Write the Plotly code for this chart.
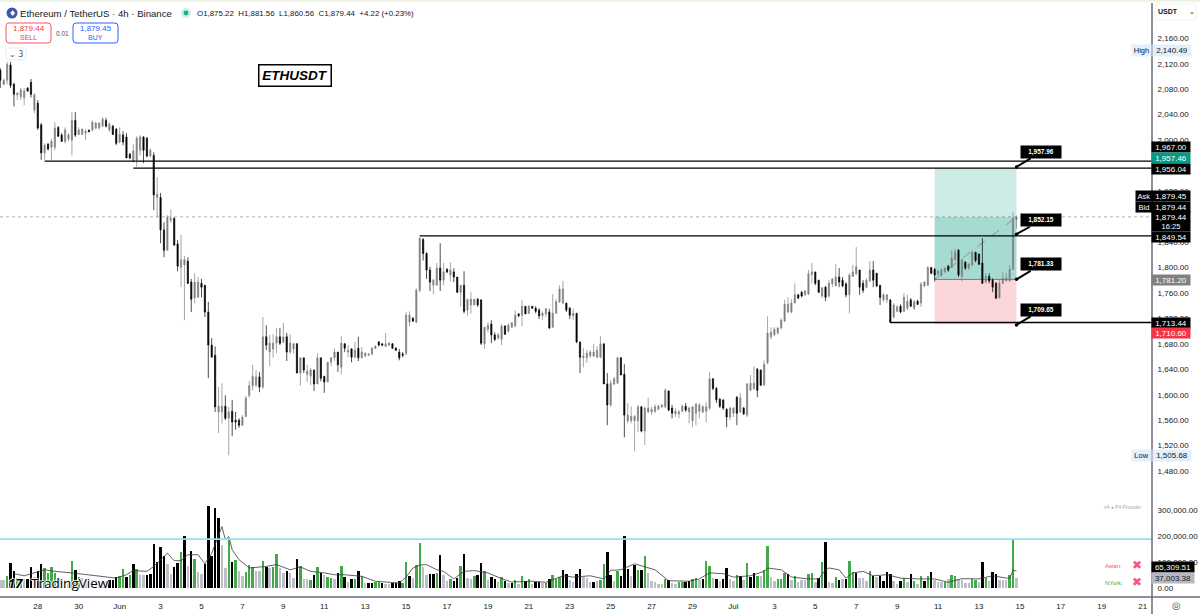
import pandas as pd
import plotly.graph_objects as go

# 4h ETH/USDT session data
bar_dates = pd.date_range("2023-05-26 04:00", periods=299, freq="4h")

opens = [
    2110,2088,2094,2118,2088,2071,2068,2067,2082,2091,
    2047,2058,2024,1980,1994,1989,1989,2020,2008,1998,
    2002,2000,2031,2009,2009,2011,2016,2016,2019,2019,
    2022,2031,2016,2022,2017,1997,2008,2005,1978,1967,
    1969,1984,2005,2003,1975,1976,1910,1910,1859,1827,
    1874,1877,1837,1800,1804,1810,1777,1752,1753,1775,
    1772,1730,1678,1662,1573,1573,1582,1563,1574,1560,
    1560,1552,1566,1599,1614,1615,1628,1612,1691,1667,
    1672,1681,1691,1683,1691,1667,1672,1680,1634,1658,
    1632,1629,1639,1617,1658,1629,1620,1651,1658,1667,
    1643,1680,1667,1672,1659,1673,1658,1661,1662,1664,
    1673,1683,1680,1676,1678,1680,1673,1667,1664,1665,
    1714,1720,1714,1764,1844,1822,1796,1772,1772,1799,
    1780,1797,1788,1793,1785,1761,1772,1733,1741,1741,
    1750,1749,1680,1703,1711,1694,1689,1687,1708,1700,
    1706,1708,1727,1725,1739,1728,1739,1736,1733,1724,
    1727,1730,1706,1728,1746,1744,1744,1736,1724,1728,
    1683,1658,1658,1661,1661,1659,1659,1680,1617,1584,
    1617,1618,1658,1632,1559,1559,1559,1559,1581,1543,
    1573,1573,1574,1577,1581,1581,1606,1579,1570,1570,
    1574,1582,1573,1559,1571,1574,1573,1574,1579,1625,
    1610,1593,1592,1577,1565,1571,1596,1573,1579,1568,
    1607,1610,1640,1639,1615,1650,1691,1694,1697,1705,
    1716,1730,1730,1744,1757,1761,1757,1758,1789,1793,
    1780,1755,1769,1755,1774,1771,1785,1780,1774,1757,
    1786,1790,1796,1775,1769,1779,1796,1791,1772,1749,
    1749,1749,1722,1731,1739,1731,1736,1749,1736,1747,
    1744,1771,1772,1800,1797,1790,1788,1793,1802,1800,
    1812,1827,1786,1808,1799,1804,1824,1821,1807,1777,
    1786,1780,1775,1752,1775,1779,1779,1797,1875.22,
]
highs = [
    2113,2097,2123,2123,2090,2075,2082,2082,2083,2096,
    2074,2063,2027,1995,1995,2002,2028,2022,2011,2020,
    2011,2044,2044,2020,2019,2017,2016,2031,2028,2028,
    2036,2035,2028,2024,2019,2020,2014,2011,1980,1994,
    2006,2008,2006,2005,1987,1981,1942,1917,1871,1882,
    1891,1879,1843,1851,1818,1816,1782,1791,1785,1782,
    1772,1746,1689,1676,1612,1618,1599,1581,1592,1573,
    1563,1568,1598,1621,1647,1639,1636,1722,1709,1694,
    1695,1705,1705,1713,1697,1695,1681,1681,1658,1658,
    1647,1642,1639,1665,1658,1629,1651,1659,1673,1667,
    1692,1681,1678,1673,1683,1691,1675,1667,1665,1675,
    1678,1684,1681,1697,1683,1681,1675,1672,1667,1730,
    1731,1722,1767,1846,1846,1824,1801,1782,1807,1838,
    1807,1799,1808,1799,1785,1772,1794,1750,1761,1750,
    1752,1750,1706,1714,1717,1698,1697,1711,1709,1712,
    1714,1733,1728,1749,1739,1741,1739,1739,1736,1731,
    1736,1735,1758,1750,1772,1779,1744,1738,1735,1728,
    1683,1673,1670,1670,1680,1676,1692,1680,1634,1623,
    1628,1659,1659,1648,1587,1582,1568,1584,1582,1581,
    1595,1581,1585,1584,1585,1610,1606,1584,1579,1576,
    1585,1587,1581,1582,1587,1587,1584,1588,1636,1626,
    1612,1595,1592,1579,1581,1581,1598,1603,1581,1618,
    1631,1645,1642,1639,1654,1723,1706,1706,1706,1720,
    1749,1753,1750,1775,1758,1763,1764,1796,1807,1793,
    1780,1769,1771,1780,1783,1805,1799,1785,1777,1791,
    1804,1832,1796,1780,1783,1810,1810,1791,1772,1760,
    1758,1750,1744,1741,1742,1760,1757,1752,1749,1749,
    1777,1778,1802,1800,1799,1796,1799,1800,1804,1827,
    1829,1829,1813,1810,1807,1827,1824,1822,1846,1791,
    1791,1783,1777,1780,1793,1791,1804,1887,1881.56,
]
lows = [
    2082,2086,2088,2082,2053,2063,2063,2055,2077,2067,
    2042,2016,1969,1969,1984,1969,1984,2005,1998,1995,
    1998,1976,2005,2008,2008,2000,2013,2014,2017,2017,
    2020,2020,2013,2008,1992,1995,1992,1972,1970,1965,
    1958,1976,1964,1973,1973,1890,1879,1838,1816,1827,
    1870,1835,1794,1769,1717,1774,1730,1744,1753,1753,
    1722,1626,1659,1573,1540,1555,1560,1505,1535,1545,
    1548,1551,1565,1595,1607,1612,1604,1609,1670,1645,
    1658,1665,1678,1681,1653,1664,1665,1634,1614,1634,
    1620,1615,1606,1617,1621,1603,1620,1645,1653,1636,
    1632,1667,1659,1651,1657,1653,1658,1659,1661,1662,
    1672,1676,1676,1675,1676,1672,1669,1654,1659,1662,
    1708,1714,1712,1761,1811,1782,1763,1758,1772,1763,
    1772,1791,1778,1777,1760,1739,1728,1724,1727,1741,
    1738,1678,1672,1698,1681,1684,1687,1678,1694,1697,
    1705,1706,1722,1708,1727,1727,1735,1728,1719,1717,
    1722,1703,1706,1727,1744,1742,1730,1719,1717,1681,
    1634,1643,1650,1658,1659,1658,1658,1617,1552,1581,
    1615,1618,1631,1533,1555,1555,1511,1541,1541,1521,
    1571,1568,1571,1576,1579,1579,1574,1563,1565,1563,
    1573,1573,1555,1549,1552,1563,1571,1557,1576,1607,
    1587,1579,1576,1549,1560,1565,1552,1571,1568,1565,
    1606,1607,1596,1614,1615,1648,1687,1692,1694,1703,
    1714,1728,1728,1744,1750,1753,1755,1757,1775,1772,
    1760,1752,1747,1753,1769,1771,1769,1769,1753,1728,
    1785,1788,1757,1760,1767,1777,1769,1769,1741,1746,
    1744,1713,1720,1730,1728,1730,1733,1738,1733,1741,
    1738,1769,1771,1789,1778,1788,1785,1791,1793,1799,
    1811,1785,1778,1796,1796,1802,1808,1804,1774,1775,
    1775,1761,1750,1752,1774,1778,1777,1796,1860.56,
]
closes = [
    2094,2094,2119,2086,2072,2074,2079,2077,2077,2072,
    2071,2019,1980,1992,1986,1998,2019,2006,1998,2016,
    2008,2031,2008,2016,2017,2014,2013,2028,2027,2027,
    2033,2022,2025,2009,1995,2009,1997,1972,1972,1983,
    2003,2005,1984,1975,1984,1914,1915,1859,1827,1879,
    1877,1835,1802,1812,1812,1775,1750,1777,1777,1769,
    1730,1678,1659,1581,1582,1582,1563,1573,1557,1557,
    1552,1565,1595,1614,1629,1628,1612,1691,1678,1681,
    1681,1691,1681,1691,1667,1681,1680,1634,1658,1639,
    1637,1639,1617,1658,1626,1620,1651,1658,1667,1647,
    1681,1673,1670,1659,1670,1658,1667,1665,1664,1673,
    1676,1678,1678,1680,1681,1673,1670,1658,1662,1725,
    1725,1716,1764,1846,1822,1796,1777,1780,1799,1780,
    1793,1793,1796,1785,1761,1772,1731,1750,1750,1750,
    1741,1681,1706,1709,1694,1687,1694,1708,1695,1709,
    1713,1725,1724,1739,1727,1739,1736,1731,1724,1728,
    1735,1705,1728,1746,1766,1766,1733,1725,1728,1683,
    1659,1661,1665,1667,1667,1670,1680,1617,1584,1618,
    1625,1658,1631,1568,1568,1566,1566,1581,1543,1579,
    1579,1577,1581,1582,1584,1607,1576,1571,1574,1573,
    1582,1576,1579,1581,1585,1584,1581,1581,1625,1610,
    1592,1582,1579,1565,1579,1579,1571,1595,1570,1617,
    1618,1618,1607,1615,1648,1697,1698,1703,1705,1717,
    1742,1742,1744,1757,1752,1755,1763,1790,1793,1775,
    1761,1768,1753,1775,1782,1785,1777,1771,1757,1788,
    1793,1801,1769,1764,1780,1796,1780,1771,1753,1757,
    1757,1714,1741,1738,1730,1753,1747,1739,1746,1742,
    1774,1777,1800,1791,1788,1794,1796,1799,1796,1815,
    1824,1788,1812,1799,1805,1824,1811,1805,1775,1786,
    1779,1769,1752,1775,1783,1783,1797,1877,1879.44,
]

# volume per bar, in thousands of ETH
volumes_k = [
    32,29,47,96,67,38,32,35,35,81,
    42,67,93,76,58,79,58,38,32,29,
    32,104,70,42,38,32,29,32,29,26,
    26,22,29,32,42,47,74,42,51,93,
    73,51,49,51,55,169,99,156,124,93,
    55,82,96,137,201,86,143,113,61,55,
    92,316,122,307,271,166,77,186,99,109,
    64,45,60,90,81,64,64,104,79,77,
    79,132,77,58,67,58,38,113,83,35,
    35,32,51,81,58,51,42,38,36,58,
    86,42,23,35,36,65,45,19,19,19,
    22,22,19,17,17,19,19,26,19,99,
    47,38,90,173,81,51,52,52,58,128,
    51,26,35,26,37,83,131,38,35,47,
    51,96,67,32,42,35,22,41,26,19,
    18,32,15,47,28,35,17,22,22,20,
    19,35,51,35,42,68,52,29,22,55,
    74,42,38,22,24,26,29,92,138,51,
    28,64,46,201,73,45,87,70,70,123,
    58,28,22,17,17,36,31,19,14,24,
    24,24,27,36,38,32,35,104,83,37,
    36,27,36,77,35,27,51,45,29,96,
    42,58,47,45,70,160,41,26,36,35,
    58,54,29,47,22,32,29,55,58,22,
    38,101,178,22,19,42,29,35,35,105,
    63,58,38,38,26,67,47,42,47,27,
    60,55,28,17,28,40,22,52,27,17,
    47,26,47,60,29,22,22,24,35,50,
    45,35,32,19,18,36,32,22,101,37,
    26,60,54,32,29,29,50,188,37.003,
]
# k = heavy selling, g = heavy buying, s = ordinary volume; ten bars per entry
volume_classes = "".join([
    "ssgkkggskk","skkggggsss","sgkgssssss","sskkkggkgk","gsskkkkkks",
    "skkgkskgss","kkkkkssgkg","ssgggssgks","ggsskssk" "gs","sgkgksggsk",
    "gkskgkgskk","ggksskkkgg","ksggsskkgk","ssgkkgkssg","kkgskksgks",
    "kgsgkgskks","gkgggkkssk","ksssksggkk","sgkkkskgkg","sssssgkssg",
    "gkkggskggs","kskkssgksg","kkgsggssgg","gksgsssggs","kgkssgkskg",
    "gksssgkskk","kksskgskgs","gkgksssgsg","gssssggskg","skksssggs",
])
volume_palette = {"k": "#000000", "g": "#43a847", "s": "#bcbec8"}

# moving average of volume, sampled at the bars where it turns
ma_bars = [4,7,13,16,21,25,34,37,39,43,45,49,51,53,55,58,60,62,64,65,66,67,68,70,73,78,81,85,88,91,95,98,101,106,110,117,
           119,121,123,125,128,130,133,136,139,143,147,150,156,160,165,168,173,177,179,182,186,189,192,196,202,205,208,212,215,220,224,225,229,232,235,
           237,240,242,243,246,248,250,253,256,260,264,269,274,278,282,287,291,295,296,297,298]
ma_values_k = [55,47,70,64,58,51,38,51,67,64,83,134,105,105,128,128,93,134,198,236,186,198,147,109,77,83,90,70,81,64,58,51,51,45,26,19,
               42,77,88,90,70,64,35,64,67,58,36,23,26,22,47,42,47,35,68,70,93,81,70,28,26,35,58,55,42,47,64,77,70,42,38,
               35,35,70,77,70,38,58,64,47,51,38,35,35,22,36,35,47,38,38,68,65.31]

# round prices sitting fully under a price tag are left out of the scale
price_ticks = [2160,2120,2080,2040,2000,1920,1840,1800,1760,1720,1680,1640,1600,1560,1520,1480]
volume_ticks = [0,100000,200000,300000]
date_ticks = ["2023-05-28","2023-05-30","2023-06-01","2023-06-03","2023-06-05","2023-06-07","2023-06-09",
              "2023-06-11","2023-06-13","2023-06-15","2023-06-17","2023-06-19","2023-06-21","2023-06-23",
              "2023-06-25","2023-06-27","2023-06-29","2023-07-01","2023-07-03","2023-07-05","2023-07-07",
              "2023-07-09","2023-07-11","2023-07-13","2023-07-15","2023-07-17","2023-07-19","2023-07-21"]
date_tick_labels = ["28","30","Jun","3","5","7","9","11","13","15","17","19","21","23","25","27","29",
                    "Jul","3","5","7","9","11","13","15","17","19","21"]

# horizontal levels: price, first bar
levels = [(1967.00, 13), (1956.04, 39), (1849.54, 123), (1713.44, 261)]
last_price = 1879.44
target_price = 1956.04
entry_price = 1781.20
stop_price = 1710.60
position_first_bar = 274
position_last_bar = 298
cyan_volume = 188000
callout_values = [1957.96, 1852.15, 1781.33, 1709.65]

PLOT_W, PLOT_TOP, PLOT_BOTTOM = 1152, 3, 597
INK = "#131722"
TEXT_FONT = "Liberation Sans"
HALO = "1px 0 1px #fff, -1px 0 1px #fff, 0 1px 1px #fff, 0 -1px 1px #fff"


def px(x):
    return x / PLOT_W


def py(y):
    return (PLOT_BOTTOM - y) / (PLOT_BOTTOM - PLOT_TOP)


def label(x, y, text, size=8, color=INK, bg=None, w=None, h=None, anchor="center", family=TEXT_FONT, border=None, shadow=None):
    font = dict(family=family, size=size, color=color)
    if shadow:
        font["shadow"] = shadow
    item = dict(xref="paper", yref="paper", x=px(x), y=py(y), text=text, showarrow=False,
                xanchor=anchor, yanchor="middle", font=font, borderpad=0)
    if bg:
        item["bgcolor"] = bg
    if w:
        item["width"] = w
    if h:
        item["height"] = h
    if border:
        item["bordercolor"] = border
        item["borderwidth"] = 1.5
    return item


def rounded(x0, y0, x1, y1, r, line, fill="rgba(0,0,0,0)", width=1):
    X0, X1, Y0, Y1 = px(x0), px(x1), py(y0), py(y1)
    rx, ry = r / PLOT_W, r / (PLOT_BOTTOM - PLOT_TOP)
    path = (f"M {X0+rx} {Y0} L {X1-rx} {Y0} Q {X1} {Y0} {X1} {Y0-ry} L {X1} {Y1+ry} Q {X1} {Y1} {X1-rx} {Y1} "
            f"L {X0+rx} {Y1} Q {X0} {Y1} {X0} {Y1+ry} L {X0} {Y0-ry} Q {X0} {Y0} {X0+rx} {Y0} Z")
    return dict(type="path", path=path, xref="paper", yref="paper", fillcolor=fill,
                line=dict(color=line, width=width), layer="above")


def disc(cx, cy, r, fill):
    return dict(type="circle", xref="paper", yref="paper", x0=px(cx - r), x1=px(cx + r),
                y0=py(cy + r), y1=py(cy - r), fillcolor=fill, line=dict(width=0), layer="above")


def paper_line(x0, y0, x1, y1, color, width):
    return dict(type="line", xref="paper", yref="paper", x0=px(x0), x1=px(x1), y0=py(y0), y1=py(y1),
                line=dict(color=color, width=width), layer="above")


fig = go.Figure()

fig.add_trace(go.Bar(
    x=bar_dates, y=[v * 1000 for v in volumes_k], yaxis="y2",
    marker=dict(color=[volume_palette[c] for c in volume_classes], line=dict(width=0)),
    width=4 * 3600 * 1000 * 0.72, hoverinfo="skip", showlegend=False,
))
fig.add_trace(go.Scatter(
    x=bar_dates[ma_bars], y=[v * 1000 for v in ma_values_k], yaxis="y2", mode="lines",
    line=dict(color="#3a3a3a", width=0.8), hoverinfo="skip", showlegend=False,
))
fig.add_trace(go.Candlestick(
    x=bar_dates, open=opens, high=highs, low=lows, close=closes, yaxis="y", whiskerwidth=0,
    increasing=dict(line=dict(color="#808080", width=0.7), fillcolor="#808080"),
    decreasing=dict(line=dict(color="#000000", width=0.7), fillcolor="#000000"),
    hoverinfo="skip", showlegend=False,
))
fig.add_trace(go.Scatter(
    x=[bar_dates[position_last_bar]] * len(callout_values), y=callout_values, yaxis="y", mode="markers",
    marker=dict(color="#000000", size=3.5), hoverinfo="skip", showlegend=False,
))

bar_ms = pd.Timedelta(hours=4)
x_start = bar_dates[0] - bar_ms * (0.3 / 3.41)
x_end = x_start + bar_ms * (PLOT_W / 3.41)
pos_x0, pos_x1 = bar_dates[position_first_bar], bar_dates[position_last_bar]

shapes = [
    dict(type="rect", xref="x", yref="y", x0=pos_x0, x1=pos_x1, y0=entry_price, y1=target_price,
         fillcolor="rgba(8,153,129,0.2)", line=dict(width=0), layer="below"),
    dict(type="rect", xref="x", yref="y", x0=pos_x0, x1=pos_x1, y0=entry_price, y1=last_price,
         fillcolor="rgba(8,153,129,0.2)", line=dict(width=0), layer="below"),
    dict(type="rect", xref="x", yref="y", x0=pos_x0, x1=pos_x1, y0=stop_price, y1=entry_price,
         fillcolor="rgba(242,54,69,0.2)", line=dict(width=0), layer="below"),
    dict(type="line", xref="x", yref="y", x0=pos_x0, x1=pos_x1, y0=entry_price, y1=last_price,
         line=dict(color="#8a8f98", width=1, dash="dash"), layer="below"),
    dict(type="line", xref="x", yref="y", x0=pos_x0, x1=pos_x1, y0=entry_price, y1=entry_price,
         line=dict(color="#6f7f7a", width=1), layer="below"),
    dict(type="line", xref="x domain", yref="y", x0=0, x1=1, y0=last_price, y1=last_price,
         line=dict(color="#b0b3ba", width=1, dash="dot"), layer="below"),
    dict(type="line", xref="x domain", yref="y2", x0=0, x1=1, y0=cyan_volume, y1=cyan_volume,
         line=dict(color="#8fe3ef", width=1.6), layer="above"),
]
for price, first_bar in levels:
    shapes.append(dict(type="line", xref="x", yref="y", x0=bar_dates[first_bar], x1=x_end, y0=price, y1=price,
                       line=dict(color="#000000", width=1.4), layer="above"))

# frame of the price and time scales
shapes += [
    paper_line(1152, 3, 1152, 614, "#6a6d78", 1.5),
    paper_line(0, 597, 1200, 597, "#6a6d78", 1.5),
    paper_line(0, 1, 1200, 1, "#eef3e4", 2),
    # header widgets
    disc(12, 13, 5.5, "#3d5aa8"),
    disc(186, 13, 5, "#cdeee7"),
    disc(186, 13, 2.4, "#22ab94"),
    rounded(6, 23, 51, 43, 3, "#f7525f"),
    rounded(73, 23, 118, 43, 3, "#2962ff"),
    rounded(6, 48, 26, 60, 2, "#e6e8ee"),
    rounded(1155, 4, 1196, 20, 2, "#f0f1f4"),
]

notes = [
    label(19, 13, "Ethereum / TetherUS · 4h · Binance", size=9.6, anchor="left"),
    label(196, 13, "O1,875.22  H1,881.56  L1,860.56  C1,879.44  +4.22 (+0.23%)", size=7.9, anchor="left"),
    label(12, 13, "♦", size=8, color="#ffffff", family="DejaVu Sans"),
    label(28.5, 28.5, "1,879.44", size=8, color="#f23645"),
    label(28.5, 37.5, "SELL", size=7, color="#f23645"),
    label(95.5, 28.5, "1,879.45", size=8, color="#2962ff"),
    label(95.5, 37.5, "BUY", size=7, color="#2962ff"),
    label(62, 33, "0.01", size=6.5, color="#50535e"),
    label(16, 54.5, "⌄ 3", size=8, color="#50535e", family="DejaVu Sans"),
    label(294.5, 75.5, "<b><i>ETHUSDT</i></b>", size=13.5, color="#000000", bg="#ffffff", w=71, h=20, border="#000000"),
    label(1157, 12, "<b>USDT</b>", size=7, anchor="left"),
    label(1192, 12, "⌄", size=7, family="DejaVu Sans"),
    # session high and low on the price scale
    label(1141, 51, "High", size=7.5, bg="#e3effb", w=19, h=11),
    label(1172, 51, "2,140.49", size=8, bg="#e3effb", w=38, h=11),
    label(1141, 455, "Low", size=7.5, bg="#e3effb", w=19, h=11),
    label(1172, 455, "1,505.68", size=8, bg="#e3effb", w=38, h=11),
    # stacked price tags
    label(1171, 147.3, "1,967.00", color="#ffffff", bg="#000000", w=38, h=10),
    label(1171, 158.3, "1,957.46", color="#ffffff", bg="#089981", w=38, h=10),
    label(1171, 168.9, "1,956.04", color="#ffffff", bg="#000000", w=38, h=10),
    label(1171, 196.3, "1,879.45", color="#ffffff", bg="#000000", w=38, h=10),
    label(1171, 206.9, "1,879.44", color="#ffffff", bg="#000000", w=38, h=10),
    label(1144, 196.3, "Ask", size=7.5, color="#ffffff", bg="#000000", w=16, h=10),
    label(1144, 206.9, "Bid", size=7.5, color="#ffffff", bg="#000000", w=16, h=10),
    label(1171, 217.2, "1,879.44", color="#ffffff", bg="#000000", w=38, h=10),
    label(1171, 226.8, "16:25", size=7.5, color="#ffffff", bg="#000000", w=38, h=9),
    label(1171, 236.7, "1,849.54", color="#ffffff", bg="#000000", w=38, h=10),
    label(1171, 280, "1,781.20", color="#ffffff", bg="#808080", w=38, h=10),
    label(1171, 322.7, "1,713.44", color="#ffffff", bg="#000000", w=38, h=10),
    label(1171, 333.3, "1,710.60", color="#ffffff", bg="#f23645", w=38, h=10),
    label(1173, 567, "65,309.51", color="#ffffff", bg="#000000", w=42, h=10),
    label(1173, 578, "37,003.38", color=INK, bg="#b6b8c2", w=42, h=10),
    # watermark, indicator provider and session flags
    label(7, 583, "<b><i>17</i></b>", size=13, color="#000000", anchor="left", family="Open Sans", shadow=HALO),
    label(30, 583, "TradingView", size=13.5, color="#000000", anchor="left", family="Open Sans", shadow=HALO),
    label(1123, 506.5, "v4 ● P4 Provider", size=5, color="#a8a6c4"),
    label(1113.5, 565.5, "Asian:", size=6, color="#f7525f"),
    label(1113.5, 582.5, "NYork:", size=6, color="#43a847"),
    label(1136.5, 565, "✖", size=12, color="#f7557f", family="DejaVu Sans"),
    label(1136.5, 582, "✖", size=12, color="#f7557f", family="DejaVu Sans"),
    label(1176, 605, "◎", size=10, color="#50535e", family="DejaVu Sans"),
]

# callouts anchored on the right edge of the position
for value, (dx, dy) in zip(callout_values, [(25, -15), (25, -14), (25, -15), (25, -15)]):
    notes.append(dict(
        xref="x", yref="y", x=pos_x1, y=value,
        text=f"<b>{value:,.2f}</b>", font=dict(family=TEXT_FONT, size=6.5, color="#ffffff"),
        bgcolor="#000000", width=40, height=12, showarrow=True, arrowhead=0, arrowwidth=2,
        arrowcolor="#000000", ax=dx, ay=dy, standoff=0, borderpad=0,
    ))

fig.update_layout(
    width=1200, height=614, margin=dict(l=0, r=48, t=PLOT_TOP, b=614 - PLOT_BOTTOM),
    paper_bgcolor="#ffffff", plot_bgcolor="#ffffff", showlegend=False, bargap=0, boxgap=0.5,
    shapes=shapes, annotations=notes,
    xaxis=dict(type="date", range=[x_start, x_end], rangeslider=dict(visible=False), showgrid=False,
               zeroline=False, showline=False, tickmode="array", tickvals=date_ticks, ticktext=date_tick_labels,
               ticks="outside", ticklen=1, tickcolor="#ffffff", tickfont=dict(family=TEXT_FONT, size=8, color=INK)),
    yaxis=dict(side="right", range=[2160 - (PLOT_BOTTOM - 38.3) / 0.6365, 2160 + (38.3 - PLOT_TOP) / 0.6365],
               showgrid=False, zeroline=False, showline=False, tickmode="array", tickvals=price_ticks,
               tickformat=",.2f", ticks="outside", ticklen=3, tickcolor="#ffffff",
               tickfont=dict(family=TEXT_FONT, size=8, color=INK), fixedrange=True),
    yaxis2=dict(side="right", overlaying="y", range=[-(PLOT_BOTTOM - 588) / 0.26e-3, (588 - PLOT_TOP) / 0.26e-3],
                showgrid=False, zeroline=False, showline=False, tickmode="array", tickvals=volume_ticks,
                tickformat=",.2f", ticks="outside", ticklen=3, tickcolor="#ffffff",
                tickfont=dict(family=TEXT_FONT, size=8, color=INK), fixedrange=True),
)

fig.write_html("out.html", config={"displayModeBar": False})
